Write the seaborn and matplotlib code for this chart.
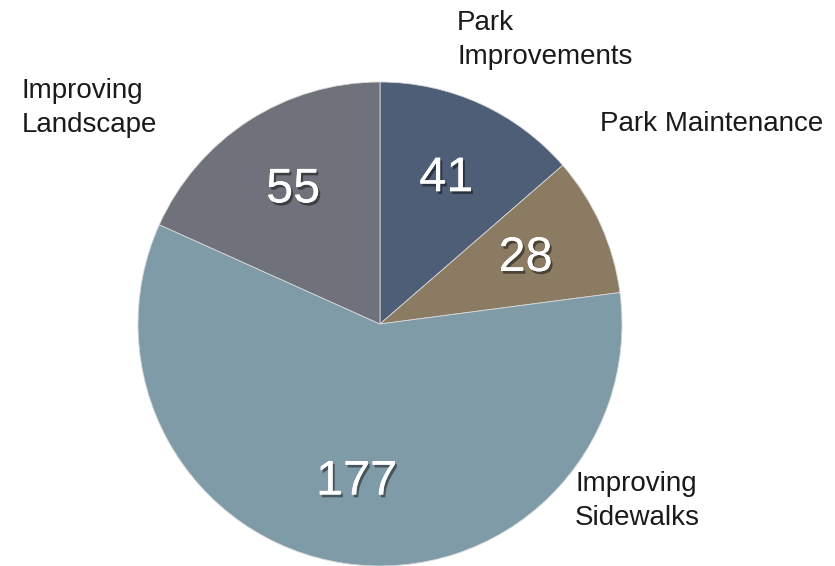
import matplotlib
matplotlib.use("Agg")
import matplotlib.pyplot as plt
import matplotlib.patheffects as pe
import seaborn as sns

categories = ["Park\nImprovements", "Park Maintenance", "Improving\nSidewalks", "Improving\nLandscape"]
values = [41, 28, 177, 55]
colors = ["#4d5e76", "#8a7b62", "#7f9ba7", "#6f727b"]

sns.set_theme(style="white")
plt.rcParams["font.family"] = ["Liberation Sans", "DejaVu Sans"]

W, H = 835, 566
fig = plt.figure(figsize=(W / 100, H / 100), dpi=100)
cx, cy, r = 380, 324, 242
ax = fig.add_axes([(cx - r) / W, (H - cy - r) / H, 2 * r / W, 2 * r / H])

wedges, texts, autotexts = ax.pie(
    values, colors=colors, startangle=90, counterclock=False, radius=1,
    autopct=lambda p: f"{round(p * sum(values) / 100):d}", pctdistance=0.66,
    wedgeprops=dict(edgecolor="#d8d8d8", linewidth=0.6),
    textprops=dict(color="white", fontsize=35),
)
for t in autotexts:
    t.set_path_effects([pe.withSimplePatchShadow(offset=(1.5, -2), alpha=0.45, shadow_rgbFace="black"),
                        pe.Normal()])
ax.set_xlim(-1, 1)
ax.set_ylim(-1, 1)
ax.set_aspect("auto")
ax.axis("off")

label_pos = [(457, 40), (600, 124), (575, 501), (22, 108)]
for lab, (x, y) in zip(categories, label_pos):
    fig.text(x / W, 1 - y / H, lab, ha="left", va="center", fontsize=20,
             color="#1a1a1a", linespacing=1.4)

fig.savefig("out.png", dpi=100)
